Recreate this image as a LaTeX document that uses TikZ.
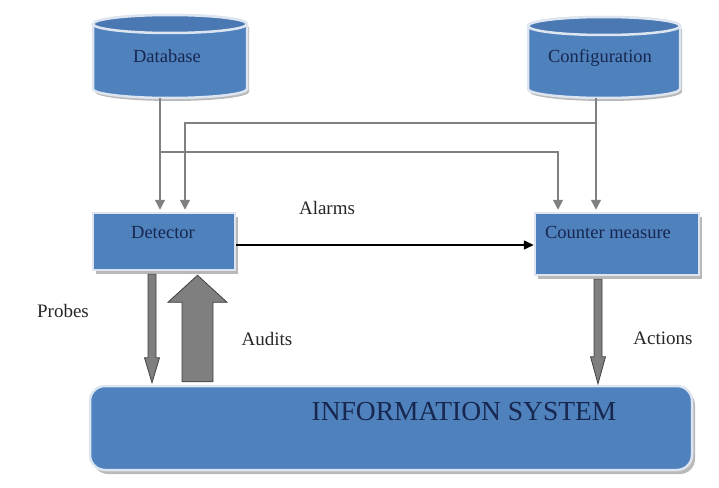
\documentclass[tikz,border=0pt]{standalone}
\usepackage{fontspec}
\setmainfont{Liberation Serif}
\usetikzlibrary{arrows.meta,shadows,calc}
\definecolor{boxblue}{HTML}{4F81BD}
\definecolor{topblue}{HTML}{4A78B2}
\definecolor{rim}{HTML}{DCE5F0}
\definecolor{navy}{HTML}{17274F}
\definecolor{feedgray}{HTML}{808080}
\definecolor{blockgray}{HTML}{7F7F7F}
\newcommand\mycyl[4]{% x1 x2 ytop ybot
  \pgfmathsetmacro\cx{(#1+#2)/2}\pgfmathsetmacro\rx{(#2-#1)/2}%
  \fill[gray!55] ($(#1,#3+9)+(2,3)$) -- ($(#1,#4-9)+(2,3)$)
     arc[start angle=180,end angle=360,x radius=\rx pt,y radius=9pt]
     -- ($(#2,#3+9)+(2,3)$) -- cycle;
  \draw[rim,line width=2.5pt,fill=boxblue] (#1,#3+9) -- (#1,#4-9)
     arc[start angle=180,end angle=360,x radius=\rx pt,y radius=9pt]
     -- (#2,#3+9) arc[start angle=0,end angle=180,x radius=\rx pt,y radius=9pt] -- cycle;
  \draw[rim,line width=2.5pt,fill=topblue] (\cx,#3+9) ellipse[x radius=\rx pt,y radius=9pt];
}
\tikzset{
  box/.style={rectangle,fill=boxblue,draw=rim,line width=2.5pt,
    drop shadow={shadow xshift=3pt,shadow yshift=-4pt,fill=gray!55,opacity=1}},
  cyltext/.style={inner sep=0pt,font=\fontsize{18.5}{21}\selectfont,text=navy},
  boxtext/.style={inner sep=0pt,font=\fontsize{18.5}{21}\selectfont,text=navy},
  lbl/.style={inner sep=0pt,font=\fontsize{19}{22}\selectfont,text=black!85},
  feed/.style={draw=feedgray,line width=1.5pt,-{Triangle[width=10pt,length=10pt,fill=feedgray]}},
  alarm/.style={draw=black,line width=1.5pt,-{Triangle[width=9pt,length=10pt]}},
  block/.style={fill=blockgray,draw=black!75,line width=0.8pt,line join=miter},
}
\begin{document}
\begin{tikzpicture}[x=1pt,y=-1pt]
\useasboundingbox (0,0) rectangle (719,487);
% cylinders
\mycyl{93}{247}{15}{98}
\mycyl{528}{680}{17}{98}
\node[cyltext,minimum width=154pt,minimum height=83pt] (db) at (167,56.5) {Database};
\node[cyltext,minimum width=152pt,minimum height=81pt] (cfg) at (600,57.5) {Configuration};
% boxes
\node[box,minimum width=142pt,minimum height=57pt] (det) at (164,241.5) {};
\node[boxtext] (detT) at (163,233) {Detector};
\node[box,minimum width=164pt,minimum height=62pt] (cm) at (617,244) {};
\node[boxtext] (cmT) at (608,232) {Counter measure};
\node[box,rounded corners=15pt,minimum width=602pt,minimum height=84pt] (is) at (391,428) {};
\node[boxtext,font=\fontsize{27.5}{30}\selectfont] (isT) at (464,412) {INFORMATION SYSTEM};
% feed coordinates
\coordinate (d1) at ([xshift=-4pt,yshift=2pt]det.north);
\coordinate (d2) at ([xshift=21pt,yshift=2pt]det.north);
\coordinate (c1) at ([xshift=-59pt,yshift=2pt]cm.north);
\coordinate (c2) at ([xshift=-21pt,yshift=2pt]cm.north);
\coordinate (j1) at (d1 |- 0,152);
\coordinate (j2) at (c2 |- 0,123);
% feed connectors
\draw[feed] (db.south -| d1) -- (d1);
\draw[feed] (cfg.south -| c2) -- (c2);
\draw[feed] (j1) -- (j1 -| c1) -- (c1);
\draw[feed] (j2) -- (j2 -| d2) -- (d2);
% alarms
\draw[alarm] ([yshift=-3.5pt]det.east) -- ([yshift=-3.5pt]det.east -| cm.west);
\node[lbl] (alarmL) at (327,208) {Alarms};
% probes arrow
\coordinate (pt) at ([xshift=-12pt]det.south);
\coordinate (pb) at (pt |- is.north);
\draw[block] ([xshift=-4pt,yshift=-3pt]pt) -- ([xshift=4pt,yshift=-3pt]pt)
  -- ([xshift=4pt,yshift=27pt]pb) -- ([xshift=7.5pt,yshift=27pt]pb) -- ([yshift=2pt]pb)
  -- ([xshift=-7.5pt,yshift=27pt]pb) -- ([xshift=-4pt,yshift=27pt]pb) -- cycle;
\node[lbl] (probesL) at (63,311) {Probes};
% audits arrow
\coordinate (at) at ([xshift=33.5pt,yshift=-4pt]det.south);
\coordinate (ab) at ([yshift=3pt]at |- is.north);
\draw[block] ([xshift=-15.5pt]ab) -- ([xshift=-15.5pt,yshift=-27pt]at)
  -- ([xshift=-29.5pt,yshift=-27pt]at) -- (at) -- ([xshift=29.5pt,yshift=-27pt]at)
  -- ([xshift=15.5pt,yshift=-27pt]at) -- ([xshift=15.5pt]ab) -- cycle;
\node[lbl] (auditsL) at (267,339) {Audits};
% actions arrow
\coordinate (qt) at ([xshift=-19pt]cm.south);
\coordinate (qb) at (qt |- is.north);
\draw[block] ([xshift=-4pt,yshift=-3pt]qt) -- ([xshift=4pt,yshift=-3pt]qt)
  -- ([xshift=4pt,yshift=28pt]qb) -- ([xshift=7.5pt,yshift=28pt]qb) -- ([yshift=1pt]qb)
  -- ([xshift=-7.5pt,yshift=28pt]qb) -- ([xshift=-4pt,yshift=28pt]qb) -- cycle;
\node[lbl] (actionsL) at (663,338) {Actions};
\end{tikzpicture}
\end{document}
